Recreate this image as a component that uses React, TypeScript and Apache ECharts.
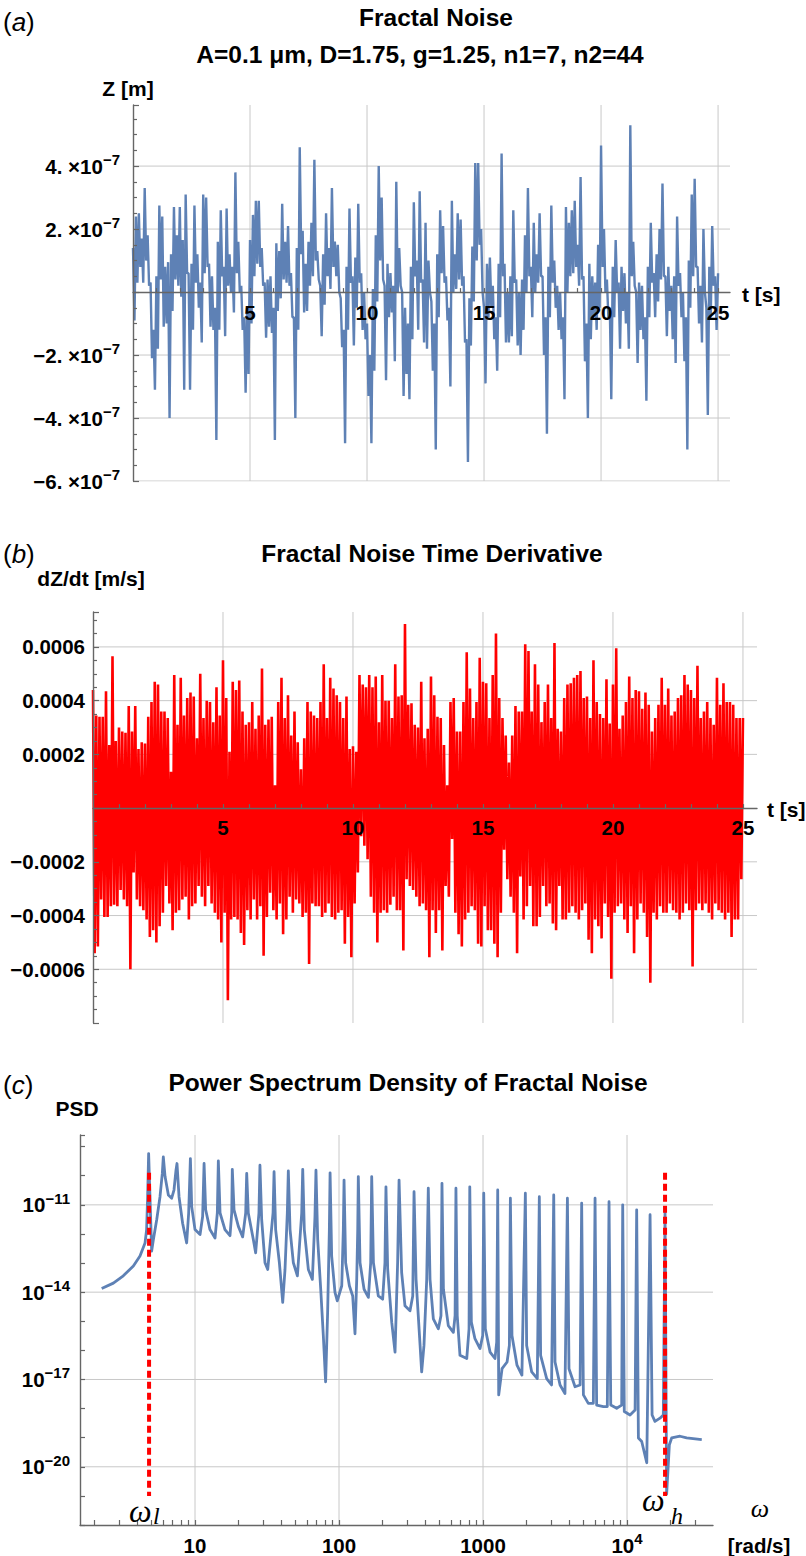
import React, { useEffect, useRef } from 'react';
import * as echarts from 'echarts';

const FONT = "'Liberation Sans', Arial, Helvetica, sans-serif";
const SERIF = "'Liberation Serif', 'Times New Roman', serif";
const BLUE = '#5E81B5';
const RED = '#FF0000';
const GRID_COLOR = '#C8C8C8';
const AXIS_COLOR = '#666666';

// ---------------- Panel (a): Fractal Noise, Z [m] (values in 1e-7 m, local max / local min alternating) ----------------
const tStepA = 0.0625; // sampling step (s)
const zA_e7 = [
  1.4, -0.9, 2.4, 0.3, 2.5, 0.8, 1.7, 0.3, 3.3, 1.0, 1.8, 0.2, 0.3, -2.1, -1.2, -3.1, 0.5, -1.8, 2.75, 0.4,
  2.4, -1.1, 0.8, -1.0, 0.95, -4.0, 1.2, -0.6, 2.7, 0.4, 1.8, 0.2, 2.7, -0.15, 1.65, -3.1, 3.1, 0.6, 0.6, -3.1,
  0.9, -1.2, 2.75, 0.3, 1.2, -0.5, 0.3, -1.6, 3.1, 0.6, 3.0, 0.8, 0.9, -1.1, 0.5, -1.2, -0.5, -4.7, 1.6, -1.2,
  2.6, 0.5, 0.8, -1.4, 2.65, 0.2, 1.2, 0.0, 0.8, -0.65, 3.8, 0.6, 1.6, 0.0, 0.2, -1.2, -0.8, -3.2, -0.5, -2.6,
  1.65, -1.0, 2.45, 0.5, 2.9, 0.9, 2.9, 0.8, 1.4, 0.2, 0.3, -1.45, 0.4, -1.1, 0.5, -1.3, -0.5, -4.7, 1.55, -0.6,
  1.3, -0.2, 2.8, 0.4, 1.6, 0.3, 2.1, 0.2, 0.6, -0.8, -0.8, -4.0, 1.4, -1.2, 4.6, 1.2, 1.95, -0.65, 0.9, -0.6,
  1.6, 0.2, 2.2, 0.5, 4.2, 1.0, 1.3, 0.4, 0.2, -1.4, 1.2, -0.4, 2.5, 0.5, 1.4, 0.1, 3.3, 0.8, 1.6, 0.5,
  1.5, 0.0, -0.2, -1.75, -1.2, -4.8, 0.8, -1.2, 2.65, 0.3, 0.5, -1.7, 1.1, -0.5, 2.8, 0.3, 0.6, -1.2, 0.0, -1.5,
  -1.0, -3.3, -2.0, -4.8, 0.1, -2.5, 1.8, -0.3, 4.0, 1.0, 3.0, 0.4, 0.2, -2.8, 0.9, -0.8, 0.6, -0.65, 0.2, -2.2,
  3.5, 0.0, 1.4, 0.2, 0.0, -3.3, -0.5, -2.6, -1.0, -3.4, 0.8, -1.5, 2.85, 0.5, 1.0, -1.2, 3.2, 0.3, 0.4, -1.6,
  2.2, -1.8, 1.0, 0.0, -0.3, -2.5, -1.0, -5.0, 1.2, -0.8, 2.6, 0.6, 2.1, 0.3, 0.5, -0.9, -0.5, -3.0, 2.9, 0.0,
  1.2, 0.1, 2.5, 0.4, 2.3, 0.2, 0.5, -1.6, -1.5, -5.4, -0.2, -1.7, 1.45, -0.3, 4.1, 1.0, 4.1, 1.5, 2.0, 0.0,
  -0.5, -2.9, 0.9, -0.8, 1.1, -0.5, 0.2, -1.5, -0.8, -2.5, 0.9, -0.8, 4.4, 0.5, 0.9, -1.6, 0.0, -1.6, 0.5, -1.4,
  2.6, 0.3, 0.4, -1.7, 0.0, -2.0, 0.4, -1.2, 1.8, 0.0, 3.3, 0.5, 0.8, -0.8, 2.2, 0.0, 1.2, 0.3, 2.5, 0.5,
  0.5, -2.0, -0.8, -4.5, 0.8, -0.8, 2.75, 0.3, 1.0, -0.5, 0.2, -1.2, 0.0, -1.5, -0.8, -3.4, 2.7, 0.0, 2.2, 0.5,
  2.6, 0.6, 2.9, 0.8, 1.5, 0.2, 3.65, 0.4, 0.5, -2.2, -1.0, -4.0, 0.9, -1.5, 0.5, -0.8, 0.3, -1.2, 1.5, -0.5,
  4.65, 0.8, 2.0, 0.0, 0.4, -0.8, -0.5, -3.4, 0.8, -0.8, 1.65, 0.0, 0.3, -1.8, 0.8, -0.6, 0.6, -1.0, 0.0, -1.8,
  5.3, 0.5, 1.6, 0.2, 0.0, -2.25, 0.3, -1.2, 0.2, -1.5, -0.8, -3.45, 0.8, -0.8, 2.2, 0.3, 0.6, -0.8, 1.2, -0.3,
  2.0, 0.4, 3.45, 0.5, 0.5, -1.4, 0.8, -0.6, 0.2, -1.5, 0.5, -2.25, 2.4, 0.2, 0.6, -0.8, 0.0, -2.2, -0.8, -5.0,
  1.0, -0.5, 3.1, 0.5, 3.6, 0.8, 0.8, -1.0, 0.2, -1.6, 2.0, 0.0, -0.5, -3.9, 0.8, -0.8, 2.1, 0.2, 0.5, -1.2,
  0.6,
];
const tRangeA = [0, 25.51];
const zRangeA_e7 = [-6, 5.94];
const tGridA = [5, 10, 15, 20, 25];
const zGridA_e7 = [-6, -4, -2, 2, 4];
const zLabelsA_e7 = [-6, -4, -2, 2, 4];

// ---------------- Panel (b): time derivative dZ/dt [m/s] (values in 1e-4 m/s) ----------------
const tStepB = 0.0625; // sampling step (s)
const dzB_e4 = [
  4.4, -5.4, 3.45, -5.15, 3.4, -3.4, 3.4, -4.05, 4.35, -4.05, 2.35, -3.65, 5.65, -3.6, 2.5, -3.65, 3.0, -3.05, 2.85, -3.4,
  2.8, -3.65, 3.8, -6.0, 2.85, -2.4, 3.8, -3.4, 2.2, -3.65, 2.45, -3.8, 2.4, -4.15, 3.4, -4.8, 3.95, -4.55, 4.7, -5.0,
  4.6, -4.4, 3.6, -3.9, 3.6, -2.9, 3.35, -3.55, 1.35, -4.55, 4.95, -3.9, 3.1, -3.8, 4.85, -3.4, 3.45, -3.3, 4.1, -4.15,
  4.3, -3.65, 4.15, -3.55, 2.6, -2.9, 5.0, -3.3, 3.35, -3.65, 4.0, -2.9, 3.95, -3.55, 3.2, -3.9, 4.5, -4.15, 3.45, -5.0,
  5.5, -3.9, 4.1, -7.15, 2.1, -4.15, 4.7, -4.05, 4.4, -4.15, 4.75, -4.65, 3.6, -5.1, 3.1, -3.8, 3.2, -4.15, 3.95, -3.4,
  2.95, -4.15, 3.45, -3.65, 5.2, -5.5, 3.1, -4.05, 3.3, -3.15, 3.4, -3.8, 0.85, -4.15, 3.95, -3.55, 4.85, -4.7, 3.35, -4.15,
  4.2, -3.3, 2.7, -3.9, 3.6, -3.4, 2.45, -3.55, 1.45, -4.05, 2.6, -3.9, 3.95, -5.8, 3.6, -3.55, 3.45, -3.65, 3.35, -3.65,
  3.95, -4.05, 5.35, -3.9, 3.35, -3.55, 4.85, -4.05, 4.45, -4.15, 4.2, -3.9, 3.95, -3.8, 3.35, -5.05, 4.15, -4.05, 2.2, -5.55,
  2.3, -3.55, 2.1, -2.4, 4.95, -1.05, 4.6, -1.4, 4.5, -1.9, 4.95, -3.3, 4.5, -3.9, 4.9, -5.0, 3.2, -3.9, 4.95, -3.8,
  4.0, -3.9, 4.0, -3.6, 3.35, -3.3, 5.35, -3.8, 4.15, -3.8, 4.2, -5.3, 6.85, -2.65, 3.85, -2.9, 3.9, -3.05, 3.1, -3.3,
  3.0, -3.65, 4.7, -3.55, 2.6, -3.8, 2.95, -5.55, 4.9, -3.8, 4.2, -4.65, 3.4, -3.8, 3.35, -5.3, 2.35, -2.9, 0.85, -3.3,
  3.95, -1.15, 4.1, -3.9, 2.85, -4.7, 2.85, -5.15, 3.95, -4.15, 5.8, -3.9, 4.45, -3.65, 3.35, -3.8, 3.95, -5.05, 5.6, -5.15,
  4.7, -3.65, 4.65, -4.55, 3.35, -4.55, 4.95, -5.05, 6.5, -5.55, 4.1, -3.9, 3.35, -1.55, 2.7, -2.65, 1.7, -3.3, 2.7, -3.9,
  3.8, -5.4, 3.6, -2.55, 3.6, -4.15, 6.1, -3.65, 5.85, -2.9, 3.6, -4.4, 5.35, -4.4, 4.6, -4.05, 3.2, -2.9, 3.95, -3.65,
  4.6, -3.55, 3.35, -4.3, 6.15, -4.55, 2.95, -2.9, 2.85, -4.15, 4.1, -4.15, 4.6, -3.9, 4.65, -3.65, 4.85, -3.9, 4.95, -4.15,
  5.1, -3.8, 4.1, -3.55, 4.15, -4.9, 3.35, -5.4, 5.5, -4.15, 3.95, -4.4, 3.5, -4.85, 3.35, -3.55, 4.8, -4.05, 3.15, -6.35,
  4.6, -3.9, 5.95, -3.65, 2.95, -3.55, 3.45, -4.15, 3.95, -4.65, 4.9, -3.65, 4.1, -5.4, 4.4, -4.15, 4.35, -3.55, 3.7, -3.9,
  4.3, -4.8, 3.85, -6.5, 2.85, -3.9, 3.35, -4.15, 3.85, -3.65, 4.85, -3.9, 3.85, -3.9, 4.45, -3.55, 3.45, -3.8, 3.6, -3.9,
  4.1, -4.15, 4.2, -3.9, 4.95, -3.55, 4.6, -3.8, 4.4, -5.9, 4.1, -3.8, 5.3, -3.55, 3.35, -3.8, 3.6, -3.55, 3.95, -3.9,
  3.35, -4.15, 3.1, -3.55, 4.85, -3.8, 3.85, -3.9, 4.65, -4.15, 3.95, -3.9, 3.95, -4.8, 3.85, -4.15, 3.35, -4.15, 3.35, -2.65,
  3.35,
];
const tRangeB = [0, 25.54];
const dzRangeB_e4 = [-8, 7.3];
const tGridB = [5, 10, 15, 20, 25];
const dzGridB_e4 = [-6, -4, -2, 2, 4, 6];
const dzLabelsB_e4 = [-6, -4, -2, 2, 4, 6];
const tLabels = [5, 10, 15, 20, 25];

// ---------------- Panel (c): PSD, log10 values ----------------
const logOmegaC = [
  0.352, 0.433, 0.502, 0.572, 0.618, 0.653, 0.664, 0.671, 0.678, 0.699, 0.711, 0.734, 0.757, 0.773, 0.780, 0.792, 0.815, 0.838, 0.854, 0.868,
  0.875, 0.889, 0.914, 0.942, 0.956, 0.968, 0.977, 1.000, 1.035, 1.053, 1.063, 1.074, 1.104, 1.139, 1.155, 1.162, 1.174, 1.208, 1.243, 1.255,
  1.259, 1.271, 1.301, 1.331, 1.352, 1.359, 1.370, 1.405, 1.421, 1.444, 1.451, 1.463, 1.486, 1.505, 1.542, 1.549, 1.560, 1.586, 1.609, 1.625,
  1.641, 1.648, 1.660, 1.683, 1.711, 1.741, 1.748, 1.759, 1.787, 1.815, 1.833, 1.840, 1.852, 1.873, 1.891, 1.907, 1.921, 1.933, 1.938, 1.949,
  1.972, 1.988, 2.019, 2.030, 2.035, 2.046, 2.072, 2.095, 2.111, 2.123, 2.130, 2.134, 2.146, 2.174, 2.204, 2.220, 2.227, 2.239, 2.273, 2.303,
  2.319, 2.326, 2.338, 2.366, 2.389, 2.407, 2.417,
  2.435, 2.458, 2.493, 2.512, 2.521, 2.535, 2.563, 2.574, 2.590, 2.609, 2.620, 2.632, 2.655, 2.690, 2.708, 2.715, 2.725, 2.759, 2.794, 2.806,
  2.812, 2.821, 2.840, 2.887, 2.903, 2.908, 2.919, 2.944, 2.979, 2.998, 3.005, 3.016, 3.049, 3.083, 3.095, 3.102, 3.109, 3.132, 3.167, 3.183,
  3.190, 3.201, 3.236, 3.270, 3.294, 3.303, 3.338, 3.377, 3.391, 3.400, 3.442, 3.476, 3.491, 3.500, 3.535, 3.569, 3.586, 3.597, 3.639, 3.674,
  3.685, 3.697, 3.731, 3.766, 3.778, 3.789, 3.836, 3.863, 3.875, 3.887, 3.928, 3.963, 3.970, 3.981, 4.021, 4.056, 4.067, 4.079, 4.102, 4.137,
  4.160, 4.174, 4.194, 4.229, 4.252, 4.264, 4.275, 4.294, 4.310, 4.368, 4.414, 4.519,
];
const logPsdC = [
  -13.875, -13.69, -13.44, -13.10, -12.76, -12.31, -11.85, -10.72, -9.24, -12.59, -12.19, -11.51, -10.72, -9.92, -9.35, -10.03, -10.66, -10.77, -10.49, -9.81,
  -9.58, -10.72, -11.63, -12.31, -11.28, -9.41, -11.06, -11.85, -12.02, -11.40, -9.58, -11.17, -11.85, -12.14, -11.28, -9.49, -11.28, -11.85, -12.06, -11.28,
  -9.78, -11.17, -11.74, -12.10, -11.28, -9.92, -11.28, -12.19, -12.65, -11.28, -9.64, -11.51, -12.99, -13.22, -11.28, -9.86, -11.85, -12.99, -14.35, -13.22,
  -11.28, -9.83, -11.85, -12.99, -13.44, -11.28, -9.78, -11.85, -13.22, -13.56, -11.40, -9.81, -12.19, -13.90, -15.49, -17.08, -14.69, -11.85, -9.90, -12.76,
  -14.01, -14.30, -13.78, -11.85, -10.15, -12.99, -13.78, -14.13, -15.43, -13.56, -11.85, -10.03, -12.99, -13.90, -14.18, -12.99, -10.03, -12.99, -14.13, -14.24,
  -12.99, -10.38, -13.22, -15.03, -16.06, -12.99, -10.15,
  -13.33, -14.47, -14.64, -14.13, -10.55, -13.56, -15.83, -16.74, -15.83, -13.56, -10.43, -13.56, -14.92, -15.26, -14.81, -10.26, -13.90, -15.15, -15.38, -14.81,
  -10.43, -14.81, -16.17, -16.28, -15.26, -10.38, -15.03, -15.60, -15.94, -15.49, -10.60, -15.26, -16.06, -16.28, -15.72, -10.49, -17.53, -16.63, -16.40, -15.83,
  -10.77, -15.49, -16.51, -16.85, -10.60, -15.83, -16.74, -16.97, -10.72, -16.17, -16.97, -17.19, -10.66, -16.40, -17.19, -17.48, -10.77, -16.63, -17.25, -17.19,
  -10.94, -17.53, -17.82, -17.82, -10.77, -17.88, -17.93, -17.93, -10.89, -17.88, -17.99, -17.88, -11.00, -18.10, -18.22, -18.05, -11.17, -19.01, -19.13, -19.86,
  -11.34, -18.22, -18.44, -18.33, -18.22, -11.23, -20.94, -19.24, -19.01, -18.95, -19.01, -19.07,
];
const logOmegaRangeC = [0.2014, 4.597];
const logPsdRangeC = [-22, -8.6];
const logOmegaLabelsC = [1, 2, 3, 4];
const omegaLabelTextC = ['10', '100', '1000', '10^4'];
const logPsdLabelsC = [-20, -17, -14, -11];
const tickMultipliersC = [1, 2, 3, 4, 5, 6, 7, 8, 9];
const tickDecadesC = [1, 10, 100, 1000, 10000];
const cutoffLogOmega = [0.681, 4.264]; // ω_l, ω_h
const cutoffLogPsd = [-9.9, -21.0];

// ---------------- layout ----------------
const GRID_A = { left: 133, top: 105, width: 597, height: 376 };
const GRID_B = { left: 93, top: 612, width: 664, height: 411 };
const GRID_C = { left: 80, top: 1135, width: 633, height: 390 };

// ---------------- helpers ----------------
const axisLine = { color: AXIS_COLOR, width: 1.4 };
const tickLine = { color: AXIS_COLOR, width: 1.2 };
const labelBase = { fontFamily: FONT, fontWeight: 'bold' as const, fontSize: 20.5, color: '#000' };
const rich = {
  b: { fontFamily: FONT, fontWeight: 'bold', fontSize: 20.5, lineHeight: 28, color: '#000' },
  s: { fontFamily: FONT, fontWeight: 'bold', fontSize: 15, lineHeight: 13, verticalAlign: 'top', color: '#000' },
};
const near = (a: number, b: number) => Math.abs(a - b) < 1e-6;

function gridLineSeries(xi: number, pts: number[][], color = GRID_COLOR, width = 1, type: any = 'solid', z = 1) {
  return {
    type: 'line', xAxisIndex: xi, yAxisIndex: xi, data: pts, symbol: 'none', silent: true,
    lineStyle: { color, width, type }, z, animation: false,
  };
}

function txt(text: string, x: number, y: number, extra: any = {}) {
  return {
    type: 'text', x, y, silent: true, z: 100,
    style: {
      text, fontFamily: FONT, fontWeight: 'bold', fontSize: 21, fill: '#000',
      align: 'center', textAlign: 'center', verticalAlign: 'middle', textVerticalAlign: 'middle',
      ...extra,
    },
  };
}

function buildOption() {
  const dataA = zA_e7.map((v, i) => [i * tStepA, v * 1e-7]);
  const dataB = dzB_e4.map((v, i) => [i * tStepB, v * 1e-4]);
  const dataC = logOmegaC.map((w, i) => [w, logPsdC[i]]);

  const yA = [zRangeA_e7[0] * 1e-7, zRangeA_e7[1] * 1e-7];
  const yB = [dzRangeB_e4[0] * 1e-4, dzRangeB_e4[1] * 1e-4];

  // x axes sit on y = 0: shift them up from the grid bottom
  const offA = -GRID_A.height * (0 - zRangeA_e7[0]) / (zRangeA_e7[1] - zRangeA_e7[0]);
  const offB = -GRID_B.height * (0 - dzRangeB_e4[0]) / (dzRangeB_e4[1] - dzRangeB_e4[0]);

  const xTicksC: number[] = [];
  tickDecadesC.forEach((d) => tickMultipliersC.forEach((m) => {
    const v = Math.log10(m * d);
    if (v >= logOmegaRangeC[0] && v <= logOmegaRangeC[1]) xTicksC.push(v);
  }));

  const series: any[] = [];
  tGridA.forEach((t) => series.push(gridLineSeries(0, [[t, yA[0]], [t, yA[1]]])));
  zGridA_e7.forEach((z) => series.push(gridLineSeries(0, [[tRangeA[0], z * 1e-7], [tRangeA[1], z * 1e-7]])));
  tGridB.forEach((t) => series.push(gridLineSeries(1, [[t, yB[0]], [t, yB[1]]])));
  dzGridB_e4.forEach((v) => series.push(gridLineSeries(1, [[tRangeB[0], v * 1e-4], [tRangeB[1], v * 1e-4]])));
  logOmegaLabelsC.forEach((w) => series.push(gridLineSeries(2, [[w, logPsdRangeC[0]], [w, logPsdRangeC[1]]])));
  logPsdLabelsC.forEach((p) => series.push(gridLineSeries(2, [[logOmegaRangeC[0], p], [logOmegaRangeC[1], p]])));

  series.push({
    type: 'line', xAxisIndex: 0, yAxisIndex: 0, data: dataA, symbol: 'none', silent: true, z: 3,
    lineStyle: { color: BLUE, width: 2.4 }, animation: false,
  });
  series.push({
    type: 'line', xAxisIndex: 1, yAxisIndex: 1, data: dataB, symbol: 'none', silent: true, z: 3,
    lineStyle: { color: RED, width: 2.6 }, animation: false,
  });
  series.push({
    type: 'line', xAxisIndex: 2, yAxisIndex: 2, data: dataC, symbol: 'none', silent: true, z: 3,
    lineStyle: { color: BLUE, width: 2.8, join: 'round' }, animation: false,
  });
  cutoffLogOmega.forEach((w) => series.push(
    gridLineSeries(2, [[w, cutoffLogPsd[0]], [w, cutoffLogPsd[1]]], RED, 4, [7, 4], 4),
  ));

  const timeLabel = (v: number) => (tLabels.some((l) => near(l, v)) ? String(Math.round(v)) : '');

  return {
    animation: false,
    textStyle: { fontFamily: FONT },
    grid: [GRID_A, GRID_B, GRID_C],
    xAxis: [
      {
        gridIndex: 0, type: 'value', min: tRangeA[0], max: tRangeA[1], interval: 1, z: 10,
        position: 'bottom', offset: offA,
        axisLine: { onZero: false, lineStyle: axisLine },
        axisTick: { inside: true, length: 4, lineStyle: tickLine },
        axisLabel: { ...labelBase, margin: 10, formatter: timeLabel, showMinLabel: false, showMaxLabel: false },
        splitLine: { show: false },
      },
      {
        gridIndex: 1, type: 'value', min: tRangeB[0], max: tRangeB[1], interval: 1, z: 10,
        position: 'bottom', offset: offB,
        axisLine: { onZero: false, lineStyle: axisLine },
        axisTick: { inside: true, length: 4, lineStyle: tickLine },
        axisLabel: { ...labelBase, margin: 9, formatter: timeLabel, showMinLabel: false, showMaxLabel: false },
        splitLine: { show: false },
      },
      {
        gridIndex: 2, type: 'value', min: logOmegaRangeC[0], max: logOmegaRangeC[1], z: 10,
        axisLine: { onZero: false, lineStyle: axisLine },
        axisTick: { inside: true, length: 5, lineStyle: tickLine, customValues: xTicksC },
        axisLabel: {
          ...labelBase, margin: 6, rich, customValues: logOmegaLabelsC,
          formatter: (v: number) => {
            const i = logOmegaLabelsC.findIndex((l) => near(l, v));
            if (i < 0) return '';
            const s = omegaLabelTextC[i];
            if (s.indexOf('^') >= 0) {
              const [b, e] = s.split('^');
              return `{b|${b}}{s|${e}}`;
            }
            return `{b|${s}}`;
          },
        },
        splitLine: { show: false },
      },
    ],
    yAxis: [
      {
        gridIndex: 0, type: 'value', min: yA[0], max: yA[1], interval: 2e-7, z: 10,
        axisLine: { onZero: false, lineStyle: axisLine },
        axisTick: { inside: true, length: 6, lineStyle: tickLine },
        minorTick: { show: true, splitNumber: 4, length: 4, lineStyle: tickLine },
        axisLabel: {
          ...labelBase, margin: 13, rich,
          formatter: (v: number) => {
            const m = Math.round(v * 1e7);
            if (!near(v * 1e7, m) || zLabelsA_e7.indexOf(m) < 0) return '';
            return `{b|${m < 0 ? '\u2212' : ''}${Math.abs(m)}. \u00d710}{s|\u22127}`;
          },
        },
        splitLine: { show: false },
        minorSplitLine: { show: false },
      },
      {
        gridIndex: 1, type: 'value', min: yB[0], max: yB[1], interval: 2e-4, z: 10,
        axisLine: { onZero: false, lineStyle: axisLine },
        axisTick: { inside: true, length: 6, lineStyle: tickLine },
        minorTick: { show: true, splitNumber: 4, length: 4, lineStyle: tickLine },
        axisLabel: {
          ...labelBase, margin: 8,
          formatter: (v: number) => {
            const m = Math.round(v * 1e4);
            if (!near(v * 1e4, m) || dzLabelsB_e4.indexOf(m) < 0) return '';
            return (m < 0 ? '\u2212' : '') + (Math.abs(m) * 1e-4).toFixed(4);
          },
        },
        splitLine: { show: false },
        minorSplitLine: { show: false },
      },
      {
        gridIndex: 2, type: 'value', min: logPsdRangeC[0], max: logPsdRangeC[1], interval: 1, z: 10,
        axisLine: { onZero: false, lineStyle: axisLine },
        axisTick: { inside: true, length: 5, lineStyle: tickLine },
        axisLabel: {
          ...labelBase, margin: 10, rich,
          formatter: (v: number) => {
            const m = Math.round(v);
            if (!near(v, m) || logPsdLabelsC.indexOf(m) < 0) return '';
            return `{b|10}{s|\u2212${Math.abs(m)}}`;
          },
        },
        splitLine: { show: false },
      },
    ],
    series,
    graphic: [
      txt('({i|a})', 3, 22, { align: 'left', textAlign: 'left', fontWeight: 'normal', fontSize: 26,
        rich: { i: { fontStyle: 'italic', fontFamily: FONT, fontSize: 26, fontWeight: 'normal' } } }),
      txt('Fractal Noise', 436, 17, { fontSize: 24.5 }),
      txt('A=0.1 \u03bcm, D=1.75, g=1.25, n1=7, n2=44', 420, 54, { fontSize: 24.5 }),
      txt('Z [m]', 128, 88),
      txt('t [s]', 742, 294, { align: 'left', textAlign: 'left' }),
      txt('({i|b})', 3, 554, { align: 'left', textAlign: 'left', fontWeight: 'normal', fontSize: 26,
        rich: { i: { fontStyle: 'italic', fontFamily: FONT, fontSize: 26, fontWeight: 'normal' } } }),
      txt('Fractal Noise Time Derivative', 432, 553, { fontSize: 24.5 }),
      txt('dZ/dt [m/s]', 91, 578),
      txt('t [s]', 767, 809, { align: 'left', textAlign: 'left' }),
      txt('({i|c})', 3, 1085, { align: 'left', textAlign: 'left', fontWeight: 'normal', fontSize: 26,
        rich: { i: { fontStyle: 'italic', fontFamily: FONT, fontSize: 26, fontWeight: 'normal' } } }),
      txt('Power Spectrum Density of Fractal Noise', 408, 1082, { fontSize: 24.5 }),
      txt('PSD', 77, 1108),
      txt('\u03c9', 760, 1508, { fontFamily: SERIF, fontStyle: 'italic', fontWeight: 'normal', fontSize: 26 }),
      txt('[rad/s]', 759, 1545, { fontSize: 20.5 }),
      txt('\u03c9', 129, 1511, { align: 'left', textAlign: 'left', fontFamily: SERIF, fontStyle: 'italic', fontWeight: 'normal', fontSize: 32 }),
      txt('l', 153, 1516, { align: 'left', textAlign: 'left', fontFamily: SERIF, fontStyle: 'italic', fontWeight: 'normal', fontSize: 24 }),
      txt('\u03c9', 642, 1500, { align: 'left', textAlign: 'left', fontFamily: SERIF, fontStyle: 'italic', fontWeight: 'normal', fontSize: 32 }),
      txt('h', 671, 1516, { align: 'left', textAlign: 'left', fontFamily: SERIF, fontStyle: 'italic', fontWeight: 'normal', fontSize: 24 }),
    ],
  };
}

export default function App() {
  const ref = useRef<HTMLDivElement>(null);
  useEffect(() => {
    document.body.style.margin = '0';
    if (!ref.current) return;
    const chart = echarts.init(ref.current, undefined, { renderer: 'svg' });
    chart.setOption(buildOption() as any);
    return () => chart.dispose();
  }, []);
  return <div ref={ref} style={{ width: 806, height: 1556, background: '#fff' }} />;
}
